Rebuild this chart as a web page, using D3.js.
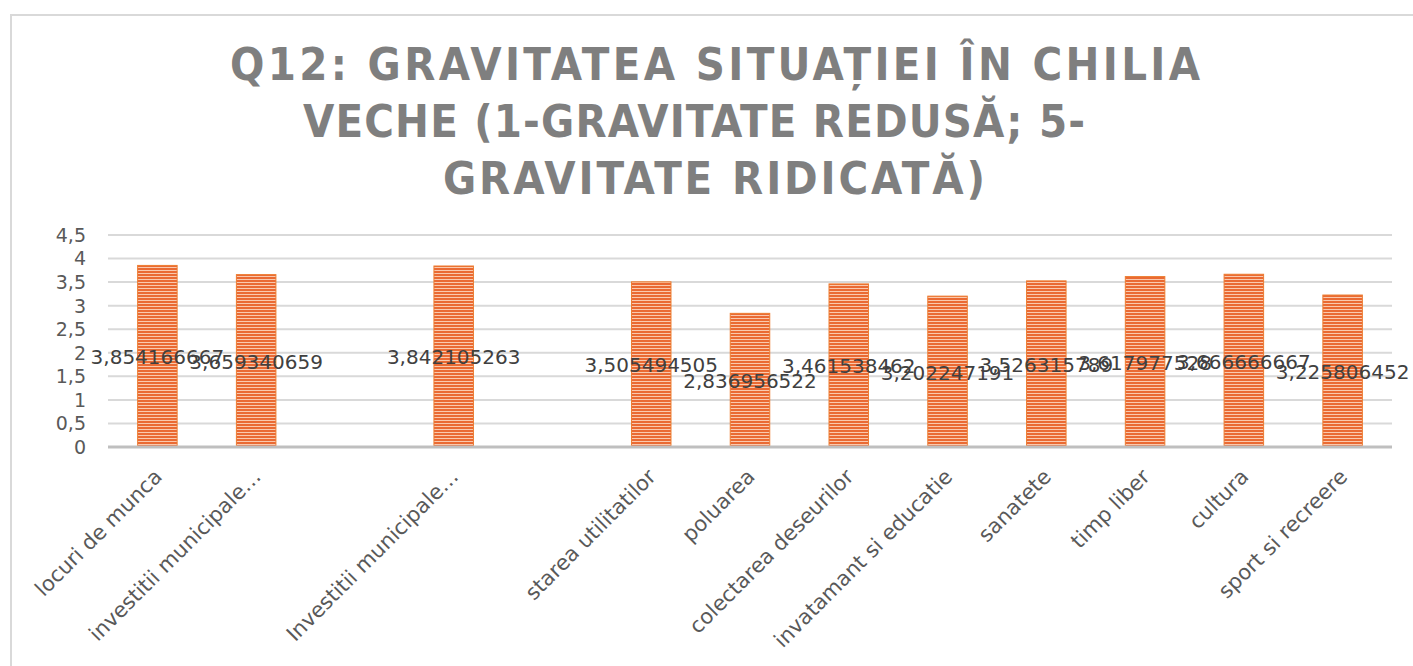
<!DOCTYPE html>
<html>
<head>
<meta charset="utf-8">
<title>Q12</title>
<script src="https://cdn.jsdelivr.net/npm/d3@7"></script>
<style>
  body { margin:0; background:#fff; font-family:"DejaVu Sans",sans-serif; }
  svg { display:block; }
  .grid line { stroke:#d9d9d9; stroke-width:2; }
  .ytick { fill:#595959; font-size:19px; }
  .xlab { fill:#595959; font-size:21px; }
  .dlab { fill:#404040; font-size:20px; }
  .title { fill:#7f7f7f; font-family:"DejaVu Sans Condensed","DejaVu Sans",sans-serif; font-weight:bold; font-size:45px; }
</style>
</head>
<body>
<svg id="chart" width="1413" height="666"></svg>
<script>
// categories; the two empty ones are blank slots in the original sheet
var cats = ["locuri de munca", "investitii municipale…", "", "Investitii municipale…", "",
  "starea utilitatilor", "poluarea", "colectarea deseurilor", "invatamant si educatie",
  "sanatete", "timp liber", "cultura", "sport si recreere"];
var vals = [3.854166667, 3.659340659, null, 3.842105263, null, 3.505494505, 2.836956522,
  3.461538462, 3.202247191, 3.526315789, 3.617977528, 3.666666667, 3.225806452];
var yticks = [0, 0.5, 1, 1.5, 2, 2.5, 3, 3.5, 4, 4.5];
var titleLines = ["Q12: GRAVITATEA SITUAȚIEI ÎN CHILIA", "VECHE (1-GRAVITATE REDUSĂ; 5-", "GRAVITATE RIDICATĂ)"];

var comma = function(v){ return String(v).replace(".", ","); };

var svg = d3.select("#chart");

// outer chart frame (runs off the right/bottom edge like the screenshot)
svg.append("rect").attr("x", 11).attr("y", 15).attr("width", 1440).attr("height", 700)
  .attr("fill", "none").attr("stroke", "#d9d9d9").attr("stroke-width", 2);

// striped fill for bars
var pat = svg.append("defs").append("pattern").attr("id", "stripes")
  .attr("patternUnits", "userSpaceOnUse").attr("width", 8).attr("height", 3);
pat.append("rect").attr("width", 8).attr("height", 3).attr("fill", "#fac9ad");
pat.append("rect").attr("y", 1).attr("width", 8).attr("height", 2).attr("fill", "#ea6a33");

// title
var tx = [230, 303, 443], tw = [970, 782, 542], ty = [80, 137, 194];
svg.selectAll(".title").data(titleLines).enter().append("text")
  .attr("class", "title")
  .attr("x", function(d, i){ return tx[i]; })
  .attr("y", function(d, i){ return ty[i]; })
  .attr("textLength", function(d, i){ return tw[i]; })
  .attr("lengthAdjust", "spacing")
  .text(function(d){ return d; });

var x = d3.scaleBand().domain(d3.range(cats.length)).range([108, 1392])
  .paddingInner(0.6).paddingOuter(0.3);
var y = d3.scaleLinear().domain([0, 4.5]).range([447, 235]);

// gridlines
svg.append("g").attr("class", "grid").selectAll("line").data(yticks.slice(1)).enter().append("line")
  .attr("x1", 108).attr("x2", 1392)
  .attr("y1", function(d){ return y(d); }).attr("y2", function(d){ return y(d); });

// y tick labels
svg.selectAll(".ytick").data(yticks).enter().append("text")
  .attr("class", "ytick").attr("text-anchor", "end")
  .attr("x", 86).attr("y", function(d){ return y(d); }).attr("dy", "0.36em")
  .text(comma);

// bars
var data = vals.map(function(v, i){ return {i:i, v:v}; }).filter(function(d){ return d.v != null; });
svg.selectAll(".bar").data(data).enter().append("rect")
  .attr("class", "bar")
  .attr("x", function(d){ return x(d.i); })
  .attr("width", x.bandwidth())
  .attr("y", function(d){ return y(d.v); })
  .attr("height", function(d){ return y(0) - y(d.v); })
  .attr("fill", "url(#stripes)")
  .attr("stroke", "#ed7d31").attr("stroke-width", 1);

// axis line
svg.append("line").attr("x1", 108).attr("x2", 1392).attr("y1", y(0)).attr("y2", y(0))
  .attr("stroke", "#bfbfbf").attr("stroke-width", 3);

// category labels
svg.selectAll(".xlab").data(cats).enter().append("text")
  .attr("class", "xlab").attr("text-anchor", "end")
  .attr("transform", function(d, i){ return "translate(" + (x(i) + x.bandwidth() / 2 + 6) + ",478) rotate(-45)"; })
  .text(function(d){ return d; });

// data labels, centred in the bar
svg.selectAll(".dlab").data(data).enter().append("text")
  .attr("class", "dlab").attr("text-anchor", "middle")
  .attr("x", function(d){ return x(d.i) + x.bandwidth() / 2; })
  .attr("y", function(d){ return y(d.v / 2); }).attr("dy", "0.4em")
  .text(function(d){ return comma(d.v); });
</script>
</body>
</html>
